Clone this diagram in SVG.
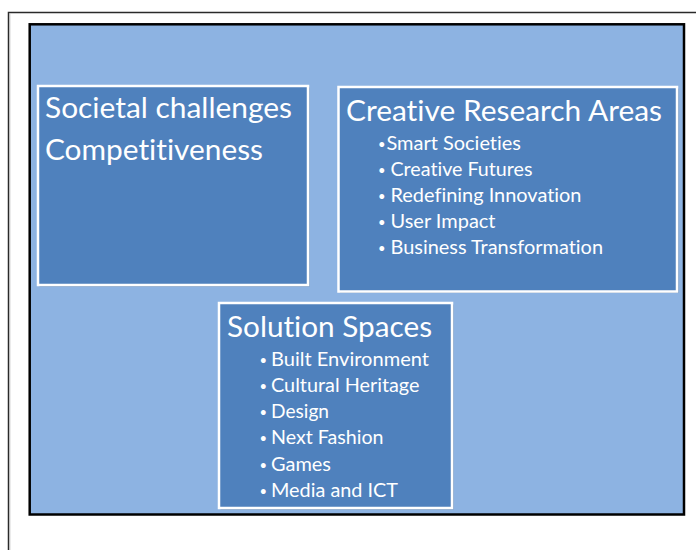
<svg xmlns="http://www.w3.org/2000/svg" width="696" height="550" viewBox="0 0 696 550">
<defs>
<style>
.page{fill:#ffffff;stroke:#2a2a2a;stroke-width:1.5}
.panel{fill:#8db3e2;stroke:#000000;stroke-width:2.5}
.box{fill:#4f81bd;stroke:#ffffff;stroke-width:2.5}
.shadow{fill:#000000;opacity:0.25}
text{font-variant-ligatures:none;font-feature-settings:"liga" 0;fill:#ffffff;font-family:Lato,"Liberation Sans",sans-serif}
.title{font-size:29.8px}
.item{font-size:19.6px}
.bul{font-size:13px}
</style>
</defs>
<rect width="696" height="550" fill="#ffffff"/>
<rect class="page" x="8.5" y="12.5" width="720" height="560"/>
<line x1="9.8" y1="13.5" x2="9.8" y2="550" stroke="#bdbdbd" stroke-width="1"/>
<rect class="panel" x="29.7" y="24.3" width="654.3" height="490.2"/>
<g id="node-societal">
<rect class="shadow" x="39.5" y="87.5" width="270" height="199"/>
<rect class="box" x="38" y="86" width="270" height="199"/>
<text class="title" x="45" y="118" textLength="247" lengthAdjust="spacingAndGlyphs">Societal challenges</text>
<text class="title" x="45" y="159.5" textLength="218" lengthAdjust="spacingAndGlyphs">Competitiveness</text>
</g>
<g id="node-creative">
<rect class="shadow" x="340" y="88.5" width="338.5" height="204.5"/>
<rect class="box" x="338.5" y="87" width="338.5" height="204.5"/>
<text class="title" x="346" y="120.5" textLength="316" lengthAdjust="spacingAndGlyphs">Creative Research Areas</text>
<text class="bul" x="378" y="149" font-size="10">•</text>
<text class="item" x="386.5" y="150" textLength="134.5" lengthAdjust="spacingAndGlyphs">Smart Societies</text>
<text class="bul" x="378" y="175">•</text>
<text class="item" x="390.5" y="176" textLength="142" lengthAdjust="spacingAndGlyphs">Creative Futures</text>
<text class="bul" x="378" y="201">•</text>
<text class="item" x="390.5" y="202" textLength="191" lengthAdjust="spacingAndGlyphs">Redefining Innovation</text>
<text class="bul" x="378" y="227">•</text>
<text class="item" x="390.5" y="228" textLength="105" lengthAdjust="spacingAndGlyphs">User Impact</text>
<text class="bul" x="378" y="253">•</text>
<text class="item" x="390.5" y="254" textLength="212.5" lengthAdjust="spacingAndGlyphs">Business Transformation</text>
</g>
<g id="node-solution">
<rect class="shadow" x="220.5" y="304.5" width="233" height="205"/>
<rect class="box" x="219" y="303" width="233" height="205"/>
<text class="title" x="227" y="336.5" textLength="205" lengthAdjust="spacingAndGlyphs">Solution Spaces</text>
<text class="bul" x="259.5" y="365">•</text>
<text class="item" x="271" y="366" textLength="158" lengthAdjust="spacingAndGlyphs">Built Environment</text>
<text class="bul" x="259.5" y="391">•</text>
<text class="item" x="271" y="392" textLength="148.5" lengthAdjust="spacingAndGlyphs">Cultural Heritage</text>
<text class="bul" x="259.5" y="417">•</text>
<text class="item" x="271" y="418" textLength="58" lengthAdjust="spacingAndGlyphs">Design</text>
<text class="bul" x="259.5" y="443">•</text>
<text class="item" x="271" y="444" textLength="112.5" lengthAdjust="spacingAndGlyphs">Next Fashion</text>
<text class="bul" x="259.5" y="469.5">•</text>
<text class="item" x="271" y="470.5" textLength="60" lengthAdjust="spacingAndGlyphs">Games</text>
<text class="bul" x="259.5" y="495.5">•</text>
<text class="item" x="271" y="496.5" textLength="127" lengthAdjust="spacingAndGlyphs">Media and ICT</text>
</g>
<g id="connectors"></g>
</svg>
